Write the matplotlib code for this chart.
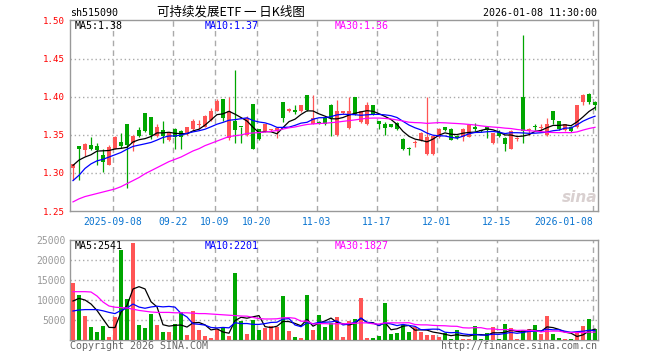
import matplotlib
matplotlib.use("Agg")
import matplotlib.pyplot as plt
import numpy as np
import pandas as pd

# daily K data for sh515090, 2025-08-28 .. 2026-01-08 (88 sessions)
opens = [1.307, 1.336, 1.330, 1.337, 1.335, 1.324, 1.311, 1.332, 1.341, 1.364,
         1.339, 1.357, 1.379, 1.374, 1.349, 1.356, 1.343, 1.358, 1.355, 1.351,
         1.358, 1.363, 1.361, 1.370, 1.382, 1.398, 1.346, 1.368, 1.361, 1.350,
         1.391, 1.358, 1.355, 1.356, 1.355, 1.394, 1.381, 1.383, 1.381, 1.402,
         1.365, 1.367, 1.372, 1.390, 1.350, 1.379, 1.359, 1.400, 1.367, 1.364,
         1.390, 1.368, 1.365, 1.364, 1.366, 1.345, 1.333, 1.340, 1.343, 1.325,
         1.325, 1.347, 1.360, 1.358, 1.349, 1.347, 1.348, 1.361, 1.356, 1.360,
         1.339, 1.354, 1.346, 1.332, 1.345, 1.400, 1.357, 1.361, 1.359, 1.350,
         1.381, 1.368, 1.356, 1.361, 1.360, 1.393, 1.404, 1.394]
closes = [1.312, 1.332, 1.338, 1.332, 1.330, 1.314, 1.334, 1.348, 1.336, 1.337,
          1.349, 1.349, 1.355, 1.350, 1.361, 1.349, 1.353, 1.348, 1.348, 1.360,
          1.368, 1.364, 1.375, 1.382, 1.395, 1.373, 1.381, 1.356, 1.360, 1.372,
          1.332, 1.345, 1.364, 1.358, 1.359, 1.373, 1.384, 1.380, 1.389, 1.383,
          1.372, 1.365, 1.365, 1.372, 1.382, 1.381, 1.381, 1.377, 1.381, 1.390,
          1.377, 1.365, 1.359, 1.361, 1.358, 1.331, 1.332, 1.341, 1.353, 1.348,
          1.349, 1.358, 1.356, 1.344, 1.346, 1.358, 1.363, 1.358, 1.355, 1.356,
          1.352, 1.349, 1.338, 1.355, 1.346, 1.355, 1.358, 1.360, 1.361, 1.364,
          1.370, 1.358, 1.364, 1.355, 1.389, 1.403, 1.394, 1.389]
highs = [1.312, 1.336, 1.339, 1.347, 1.339, 1.331, 1.337, 1.349, 1.353, 1.364,
         1.350, 1.361, 1.379, 1.374, 1.364, 1.369, 1.354, 1.359, 1.356, 1.361,
         1.371, 1.370, 1.376, 1.385, 1.397, 1.398, 1.400, 1.436, 1.361, 1.375,
         1.391, 1.358, 1.365, 1.358, 1.360, 1.394, 1.385, 1.389, 1.390, 1.402,
         1.402, 1.368, 1.373, 1.391, 1.396, 1.382, 1.400, 1.400, 1.382, 1.393,
         1.390, 1.369, 1.367, 1.365, 1.367, 1.346, 1.334, 1.344, 1.354, 1.400,
         1.350, 1.359, 1.361, 1.359, 1.350, 1.359, 1.364, 1.366, 1.357, 1.361,
         1.353, 1.357, 1.347, 1.356, 1.348, 1.482, 1.359, 1.364, 1.364, 1.372,
         1.382, 1.369, 1.365, 1.362, 1.390, 1.404, 1.405, 1.395]
lows = [1.291, 1.291, 1.322, 1.330, 1.311, 1.301, 1.310, 1.331, 1.333, 1.280,
        1.329, 1.348, 1.354, 1.345, 1.348, 1.339, 1.342, 1.332, 1.332, 1.350,
        1.357, 1.358, 1.360, 1.369, 1.381, 1.368, 1.344, 1.340, 1.339, 1.349,
        1.331, 1.344, 1.354, 1.355, 1.346, 1.367, 1.380, 1.377, 1.380, 1.382,
        1.364, 1.364, 1.363, 1.349, 1.349, 1.378, 1.358, 1.376, 1.366, 1.363,
        1.376, 1.358, 1.350, 1.360, 1.357, 1.330, 1.324, 1.334, 1.342, 1.324,
        1.324, 1.346, 1.355, 1.343, 1.345, 1.342, 1.347, 1.355, 1.354, 1.346,
        1.338, 1.348, 1.329, 1.331, 1.342, 1.339, 1.350, 1.356, 1.357, 1.349,
        1.364, 1.357, 1.355, 1.354, 1.359, 1.390, 1.391, 1.383]
volumes = [14333, 11250, 6083, 3250, 2000, 3583, 833, 5833, 22500, 10250,
           24333, 3750, 3000, 6500, 3833, 2000, 2000, 4000, 6917, 1250,
           7250, 2500, 1000, 583, 2667, 3250, 1000, 16750, 4750, 1500,
           5000, 2500, 3000, 3500, 3250, 11000, 2250, 750, 500, 11250,
           2500, 6250, 3250, 4167, 5833, 833, 4750, 5250, 10583, 583,
           500, 1000, 9250, 1500, 1750, 3750, 2000, 3250, 2000, 1333,
           1333, 750, 1750, 250, 2500, 250, 250, 3500, 250, 1750,
           3250, 250, 4000, 3000, 250, 2417, 2750, 3750, 1500, 6000,
           1500, 500, 250, 250, 1917, 3500, 5250, 2750]

# moving averages before a full window exists (they use earlier sessions)
ma5_head = [1.310, 1.317, 1.321, 1.324]
ma10_head = [1.290, 1.297, 1.306, 1.312, 1.316, 1.318, 1.321, 1.324, 1.327]
ma30_head = [1.262, 1.266, 1.269, 1.271, 1.273, 1.275, 1.277, 1.279, 1.282, 1.286,
             1.290, 1.294, 1.299, 1.303, 1.307, 1.311, 1.315, 1.318, 1.321, 1.325,
             1.329, 1.332, 1.336, 1.339, 1.342, 1.345, 1.348, 1.349, 1.350]
vma5_head = [9750, 10400, 10000, 9000]
vma10_head = [7250, 7500, 7600, 7600, 7600, 7300, 6900, 6600, 7400]
vma30_head = [12083, 12083, 12083, 12000, 11000, 9500, 8500, 8200, 8100, 8000,
              7700, 7400, 7200, 7000, 6900, 6900, 6900, 6800, 6800, 6800,
              6700, 6600, 6600, 6500, 6400, 6300, 6200, 6100, 6000]

date_idx = [7, 17, 24, 31, 41, 51, 61, 71, 87]
date_labels = ["2025-09-08", "09-22", "10-09", "10-20", "11-03",
               "11-17", "12-01", "12-15", "2026-01-08"]
price_ticks = [1.25, 1.30, 1.35, 1.40, 1.45, 1.50]
vol_ticks = [5000, 10000, 15000, 20000, 25000]

code = "sh515090"
title = "可持续发展ETF 一 日K线图"
stamp = "2026-01-08 11:30:00"
price_ma_text = ["MA5:1.38", "MA10:1.37", "MA30:1.36"]
vol_ma_text = ["MA5:2541", "MA10:2201", "MA30:1827"]

RED = "#ff5555"
GREEN = "#00a600"
GRID = "#aaaaaa"
MA_COLORS = ["black", "#0000ff", "#ff00ff"]

plt.rcParams["font.family"] = ["DejaVu Sans Mono", "Noto Sans CJK SC"]


def moving_average(values, n, head):
    s = pd.Series(values, dtype=float).rolling(n).mean().to_numpy()
    s[:len(head)] = head
    return s


x = np.arange(len(closes))
o = np.array(opens)
c = np.array(closes)
up = c >= o
colors = np.where(up, RED, GREEN)

W, H = 660, 360
fig = plt.figure(figsize=(W / 100, H / 100), dpi=100)
ax = fig.add_axes([70 / W, 1 - 211 / H, 528 / W, 191 / H])
vax = fig.add_axes([70 / W, 1 - 340 / H, 528 / W, 100 / H])

for a in (ax, vax):
    a.set_xlim(-0.5, len(closes) - 0.5)
    for sp in a.spines.values():
        sp.set_color("#999999")
        sp.set_linewidth(1)
    for i in date_idx:
        a.axvline(i - 0.4, color=GRID, lw=1, ls=(0, (4, 3)), zorder=0)

# price panel
ax.set_ylim(1.25, 1.5013)
for p in price_ticks[1:-1]:
    ax.axhline(p, color=GRID, lw=1, ls=(0, (1, 2)), zorder=0)
ax.vlines(x, lows, highs, colors=colors, lw=0.9, zorder=2)
body = np.maximum(np.abs(c - o), 0.0013)
ax.bar(x, body, bottom=np.minimum(o, c), width=0.8, color=colors, lw=0, zorder=3)

ma_price = [moving_average(closes, 5, ma5_head),
            moving_average(closes, 10, ma10_head),
            moving_average(closes, 30, ma30_head)]
for line, col in zip(ma_price, MA_COLORS):
    ax.plot(x, line, color=col, lw=0.9, zorder=4)

ax.set_yticks(price_ticks)
ax.set_yticklabels([f"{p:.2f}" for p in price_ticks])
ax.tick_params(axis="y", length=0, pad=4, labelsize=6.6, labelcolor="red")
ax.set_xticks([i - 0.4 for i in date_idx])
ax.set_xticklabels(date_labels)
ax.tick_params(axis="x", length=0, pad=4, labelsize=7, labelcolor="#0a74d0")
ax.get_xticklabels()[-1].set_ha("right")

# volume panel
vax.set_ylim(0, 25000)
for v in vol_ticks[:-1]:
    vax.axhline(v, color=GRID, lw=1, ls=(0, (1, 2)), zorder=0)
vax.bar(x, volumes, width=0.8, color=colors, lw=0, zorder=3)
ma_vol = [moving_average(volumes, 5, vma5_head),
          moving_average(volumes, 10, vma10_head),
          moving_average(volumes, 30, vma30_head)]
for line, col in zip(ma_vol, MA_COLORS):
    vax.plot(x, line, color=col, lw=0.9, zorder=4)
vax.set_yticks(vol_ticks)
vax.set_yticklabels([str(v) for v in vol_ticks])
vax.tick_params(axis="y", length=0, pad=3, labelsize=7, labelcolor="#999999")
vax.set_xticks([])

# texts, placed in pixel coordinates
def fig_text(px, py, s, **kw):
    fig.text(px / W, 1 - py / H, s, va="center", **kw)

fig_text(70, 13, code, fontsize=7.2, color="black")
fig_text(231, 12, title, fontsize=9, ha="center", color="black",
         family=["Noto Sans CJK SC", "DejaVu Sans"])
fig_text(597, 13, stamp, fontsize=7.2, ha="right", color="black")
for px, s, col in zip([75, 205, 335], price_ma_text, MA_COLORS):
    fig_text(px, 26, s, fontsize=7.2, color=col)
for px, s, col in zip([75, 205, 335], vol_ma_text, MA_COLORS):
    fig_text(px, 246, s, fontsize=7.2, color=col)
fig_text(70, 346, "Copyright 2026 SINA.COM", fontsize=7.2, color="#666666")
fig_text(597, 346, "http://finance.sina.com.cn", fontsize=7.2, ha="right", color="#666666")
fig_text(597, 197, "sina", fontsize=11, ha="right", color="#d9d0d0",
         style="italic", weight="bold", family="DejaVu Sans")

fig.savefig("out.png", dpi=100)
